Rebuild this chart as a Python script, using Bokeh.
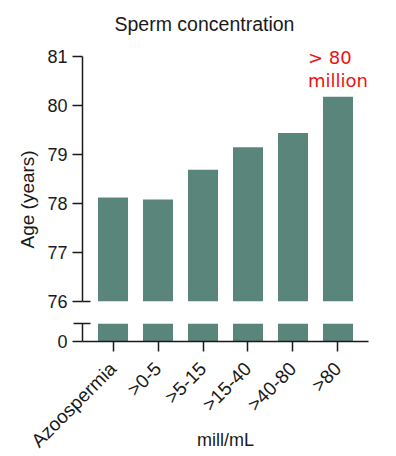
import math
from bokeh.plotting import figure
from bokeh.models import FactorRange, Range1d, FixedTicker, Title, ColumnDataSource
from bokeh.layouts import column
from bokeh.embed import file_html
from bokeh.resources import INLINE
from bokeh.core.properties import value

categories = ["Azoospermia", ">0-5", ">5-15", ">15-40", ">40-80", ">80"]
ages = [78.12, 78.08, 78.69, 79.15, 79.44, 80.18]
upper_ticks = [76, 77, 78, 79, 80, 81]
break_low = 76
lower_ticks = [0]
annotation = ["> 80", "million"]
title_text = "Sperm concentration"
y_label = "Age (years)"
x_label = "mill/mL"

FONT = "Liberation Sans"
BAR = "#5a857a"
INK = "#1a1a1a"
RED = "#ee1111"

src = ColumnDataSource(dict(cat=categories, age=ages))
xr = FactorRange(factors=categories, range_padding=0.0593)


def style_common(p):
    p.outline_line_color = None
    p.xgrid.visible = False
    p.ygrid.visible = False
    p.background_fill_color = "white"
    p.border_fill_color = "white"


def style_axis(ax, size="18px"):
    ax.axis_line_width = 1.5
    ax.major_tick_line_width = 1.5
    ax.minor_tick_line_width = 1.5
    ax.axis_line_color = INK
    ax.major_tick_line_color = INK
    ax.minor_tick_line_color = INK
    ax.major_tick_out = 10
    ax.major_tick_in = 0
    ax.major_label_standoff = 5
    ax.major_label_text_font = FONT
    ax.major_label_text_font_size = size
    ax.major_label_text_color = INK


top = figure(width=388, height=312, x_range=xr, y_range=Range1d(76, 81.306),
             output_backend="svg", toolbar_location=None, x_axis_location=None,
             min_border_left=82, min_border_right=20, min_border_top=41, min_border_bottom=11)
style_common(top)
top.vbar(x="cat", top="age", bottom=break_low, width=0.667, source=src,
         fill_color=BAR, line_color=None)

top.title.text = title_text
top.title.align = "left"
top.title.offset = 32
top.title.standoff = 14
top.title.text_font = FONT
top.title.text_font_size = "19.5px"
top.title.text_font_style = "normal"
top.title.text_color = INK

ya = top.yaxis[0]
style_axis(ya)
ya.bounds = (upper_ticks[0], upper_ticks[-1])
ya.ticker = FixedTicker(ticks=upper_ticks, minor_ticks=[break_low])
ya.minor_tick_in = 8
ya.minor_tick_out = 0

top.add_layout(Title(text=y_label, align="left", offset=53, standoff=14,
                     text_font=FONT, text_font_size="19px", text_font_style="normal",
                     text_color=INK), "left")

for line, off in zip(annotation, (-39, -16)):
    top.text(x=[categories[-1]], y=[ages[-1]], text=[line], x_offset=-30, y_offset=off,
             text_align="left", text_baseline="alphabetic",
             text_font=value("DejaVu Sans"), text_font_size="18px", text_color=RED)

bot = figure(width=388, height=144, x_range=xr, y_range=Range1d(0, 1),
             output_backend="svg", toolbar_location=None,
             min_border_left=82, min_border_right=20, min_border_top=11, min_border_bottom=115)
style_common(bot)
bot.vbar(x="cat", top="age", bottom=0, width=0.667, source=src,
         fill_color=BAR, line_color=None)

yb = bot.yaxis[0]
style_axis(yb)
yb.bounds = (0, 1)
yb.ticker = FixedTicker(ticks=lower_ticks, minor_ticks=[1])
yb.minor_tick_in = 8
yb.minor_tick_out = 9

xb = bot.xaxis[0]
style_axis(xb, "19px")
xb.major_label_orientation = math.pi / 4
xb.minor_tick_out = 0
xb.major_label_standoff = 14
xb.axis_label = x_label
xb.axis_label_standoff = -32
xb.axis_label_text_font = FONT
xb.axis_label_text_font_size = "18px"
xb.axis_label_text_font_style = "normal"
xb.axis_label_text_color = INK

layout = column(top, bot, spacing=0)
open("out.html", "w").write(file_html(layout, INLINE))
